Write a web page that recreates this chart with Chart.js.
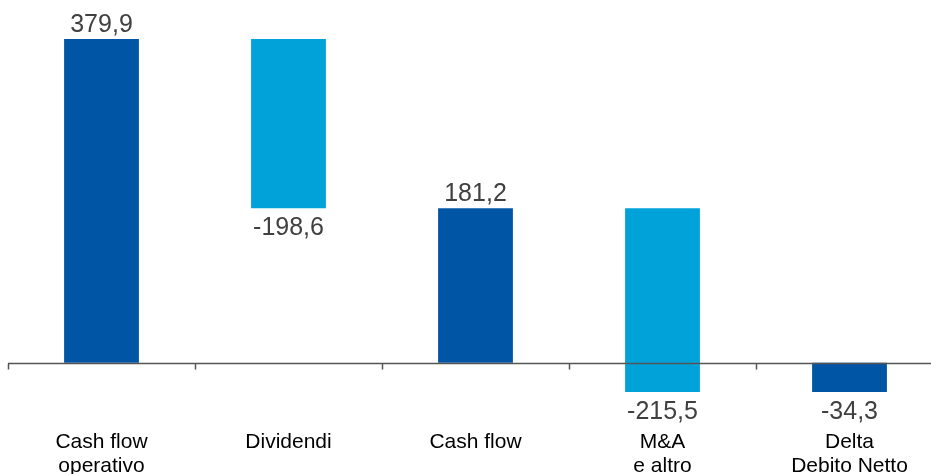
<!DOCTYPE html>
<html>
<head>
<meta charset="utf-8">
<script src="https://cdn.jsdelivr.net/npm/chart.js@4"></script>
<style>
    html, body { margin: 0; padding: 0; background: #fff; overflow: hidden; }
    #wrap { width: 945px; height: 478px; }
</style>
</head>
<body>
<div id="wrap"><canvas id="myChart"></canvas></div>
<script>
const categories = [['Cash flow', 'operativo'], 'Dividendi', 'Cash flow', ['M&A', 'e altro'], ['Delta', 'Debito Netto']];
const values = [379.9, -198.6, 181.2, -215.5, -34.3];
const barStart = [0, 379.9, 0, 181.2, 0];
const barEnd = [379.9, 181.3, 181.2, -34.3, -34.3];
const barColors = ['#0055a5', '#00a2da', '#0055a5', '#00a2da', '#0055a5'];

const darkGray = '#404040';

// zero line with tick marks between categories
const zeroAxis = {
    id: 'zeroAxis',
    afterDatasetsDraw(chart) {
        const ctx = chart.ctx;
        const x = chart.scales.x;
        const y0 = Math.round(chart.scales.y.getPixelForValue(0)) + 0.5;
        const step = (x.right - x.left) / categories.length;
        ctx.save();
        ctx.strokeStyle = '#555555';
        ctx.lineWidth = 1.5;
        ctx.beginPath();
        ctx.moveTo(x.left, y0);
        ctx.lineTo(chart.width, y0);
        for (let i = 0; i <= categories.length; i++) {
            const px = Math.round(x.left + i * step) + 0.5;
            ctx.moveTo(px, y0);
            ctx.lineTo(px, y0 + 6);
        }
        ctx.stroke();
        ctx.restore();
    }
};

// value labels above / below the bars
const valueLabels = {
    id: 'valueLabels',
    afterDatasetsDraw(chart) {
        const ctx = chart.ctx;
        const meta = chart.getDatasetMeta(0);
        ctx.save();
        ctx.font = '25px "Liberation Sans", Arial, sans-serif';
        ctx.fillStyle = darkGray;
        ctx.textAlign = 'center';
        ctx.textBaseline = 'alphabetic';
        meta.data.forEach((bar, i) => {
            const text = values[i].toFixed(1).replace('.', ',');
            const top = Math.min(bar.y, bar.base);
            const bottom = Math.max(bar.y, bar.base);
            if (values[i] >= 0) {
                ctx.fillText(text, bar.x, top - 7);
            } else {
                ctx.fillText(text, bar.x, bottom + 27);
            }
        });
        ctx.restore();
    }
};

new Chart(document.getElementById('myChart'), {
    type: 'bar',
    data: {
        labels: categories,
        datasets: [{
            data: barStart.map((s, i) => [s, barEnd[i]]),
            backgroundColor: barColors,
            borderWidth: 0,
            barPercentage: 0.4,
            categoryPercentage: 1
        }]
    },
    options: {
        responsive: true,
        maintainAspectRatio: false,
        animation: false,
        layout: { padding: { left: 8, right: 2, top: 0, bottom: 0 } },
        plugins: {
            legend: { display: false },
            tooltip: { enabled: false }
        },
        scales: {
            x: {
                grid: { display: false },
                border: { display: false },
                ticks: {
                    color: '#000',
                    padding: 0,
                    maxRotation: 0,
                    autoSkip: false,
                    font: { family: '"Liberation Sans", Arial, sans-serif', size: 21, lineHeight: 1.15 }
                }
            },
            y: {
                display: false,
                min: -69.2,
                max: 425.6
            }
        }
    },
    plugins: [zeroAxis, valueLabels]
});
</script>
</body>
</html>
